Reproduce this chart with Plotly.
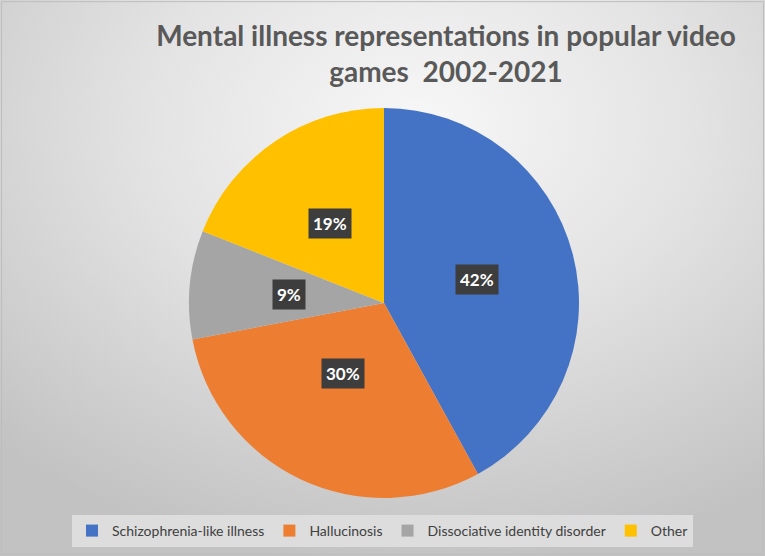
import math
import urllib.parse
import plotly.graph_objects as go

labels = ['Schizophrenia-like illness', 'Hallucinosis', 'Dissociative identity disorder', 'Other']
values = [42, 30, 9, 19]
colors = ['#4472c4', '#ed7d31', '#a5a5a5', '#ffc000']

W, H = 765, 556
# pie placement in pixels (centre and radius)
cx, cy, R = 384, 303, 195
dom_x = [(cx - R) / W, (cx + R) / W]
dom_y = [(H - cy - R) / H, (H - cy + R) / H]

bg_svg = (
    "<svg xmlns='http://www.w3.org/2000/svg' width='765' height='556' preserveAspectRatio='none'>"
    "<defs><radialGradient id='g' cx='55%' cy='22%' r='80%'>"
    "<stop offset='0' stop-color='#f7f7f7'/>"
    "<stop offset='0.45' stop-color='#e3e3e3'/>"
    "<stop offset='1' stop-color='#c2c2c2'/>"
    "</radialGradient></defs>"
    "<rect width='765' height='556' fill='url(#g)'/></svg>"
)
bg_uri = 'data:image/svg+xml;charset=utf-8,' + urllib.parse.quote(bg_svg)

fig = go.Figure()
fig.add_trace(go.Pie(
    labels=labels,
    values=values,
    sort=False,
    direction='clockwise',
    rotation=0,
    domain=dict(x=dom_x, y=dom_y),
    marker=dict(colors=colors, line=dict(color='#ffffff', width=0)),
    textinfo='none',
    hoverinfo='label+percent',
))

# percentage labels in dark boxes, placed at the middle angle of each slice
total = sum(values)
cum = 0
annotations = []
for v in values:
    mid = (cum + v / 2) / total * 2 * math.pi
    cum += v
    r = 0.49 * R
    annotations.append(dict(
        x=(cx + r * math.sin(mid)) / W, y=(H - cy + r * math.cos(mid)) / H,
        xref='paper', yref='paper',
        text='<b>%d%%</b>' % round(v / total * 100),
        showarrow=False,
        font=dict(family='Lato, Open Sans, sans-serif', size=17, color='#ffffff'),
        bgcolor='#3d3d3d', borderpad=4,
    ))

fig.update_layout(
    width=W, height=H,
    margin=dict(l=0, r=0, t=0, b=0),
    paper_bgcolor='#dcdcdc',
    title=dict(
        text='Mental illness representations in popular video<br>games  2002-2021',
        x=0.583, xanchor='center', yref='container', y=0.918, yanchor='top',
        font=dict(family='Lato, sans-serif', size=28, color='#595959', weight='bold'),
    ),
    legend=dict(
        orientation='h', x=0.5, xanchor='center', y=(H - 515) / H, yanchor='top',
        bgcolor='#dddddd', font=dict(family='Lato, Open Sans, sans-serif', size=14, color='#404040'),
        traceorder='normal', itemwidth=30,
    ),
    annotations=annotations,
    images=[dict(source=bg_uri, xref='paper', yref='paper', x=0, y=1,
                 sizex=1, sizey=1, sizing='stretch', layer='below',
                 xanchor='left', yanchor='top')],
    shapes=[dict(type='rect', xref='paper', yref='paper', x0=0.002, x1=0.998,
                 y0=0.003, y1=0.997, line=dict(color='#bdbdbd', width=1))],
)

fig.write_html('out.html', config={'displayModeBar': False},
               post_script="document.body.style.margin='0';")
